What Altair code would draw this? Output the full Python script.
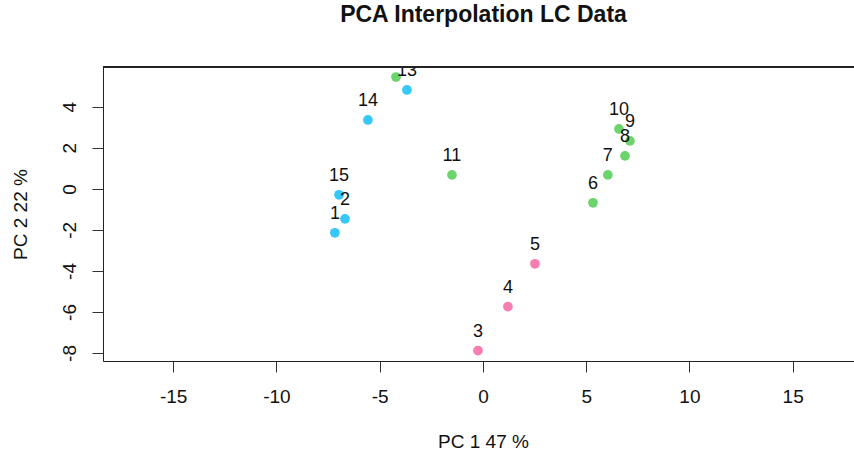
import altair as alt
import pandas as pd

labels = ["1", "2", "3", "4", "5", "6", "7", "8", "9", "10", "11", "12", "13", "14", "15"]
pc1 = [-7.17, -6.68, -0.24, 1.21, 2.52, 5.33, 6.05, 6.88, 7.12, 6.59, -1.50, -4.21, -3.68, -5.57, -6.97]
pc2 = [-2.14, -1.46, -7.88, -5.74, -3.65, -0.68, 0.68, 1.61, 2.34, 2.92, 0.68, 5.45, 4.82, 3.36, -0.29]
groups = ["a", "a", "b", "b", "b", "c", "c", "c", "c", "c", "c", "c", "a", "a", "a"]
group_names = ["a", "b", "c"]
group_colors = ["#36C8F8", "#F87DB0", "#6CD46C"]

x_ticks = [-15, -10, -5, 0, 5, 10, 15]
y_ticks = [-8, -6, -4, -2, 0, 2, 4]

df = pd.DataFrame({"label": labels, "pc1": pc1, "pc2": pc2, "group": groups})

FONT = "Liberation Sans"
W, H = 751, 294

xs = alt.Scale(domain=[-18.40, 17.97], nice=False, zero=False)
ys = alt.Scale(domain=[-8.39, 5.94], nice=False, zero=False)

xenc = alt.X("pc1:Q", scale=xs, axis=alt.Axis(
    values=x_ticks, title="PC 1 47 %", grid=False, tickSize=11, tickColor="#333333",
    domainColor="#222222", labelFontSize=19, labelFont=FONT, labelColor="#111111",
    labelPadding=15, titleFont=FONT, titleFontSize=19, titleFontWeight="normal",
    titleColor="#111111", titleX=380, titleY=80, titleBaseline="middle",
    labelExpr="toString(datum.value)",
    labelFlush=False, labelOverlap=False))
yenc = alt.Y("pc2:Q", scale=ys, axis=alt.Axis(
    values=y_ticks, title="PC 2 22 %", grid=False, tickSize=11, tickColor="#333333",
    domainColor="#222222", labelFontSize=19, labelFont=FONT, labelColor="#111111",
    labelAngle=-90, labelPadding=13, titleFont=FONT, titleFontSize=19,
    titleFontWeight="normal", titleColor="#111111", titleX=-83, titleY=147,
    titleBaseline="middle", titleAngle=-90, labelExpr="toString(datum.value)",
    labelFlush=False, labelOverlap=False))

color = alt.Color("group:N", scale=alt.Scale(domain=group_names, range=group_colors), legend=None)

points = alt.Chart(df).mark_circle(size=95, opacity=1).encode(x=xenc, y=yenc, color=color)
texts = alt.Chart(df).mark_text(fontSize=18, font=FONT, color="#111111", dy=-19,
                                baseline="middle", clip=True).encode(
    x=alt.X("pc1:Q", scale=xs), y=alt.Y("pc2:Q", scale=ys), text="label:N")
top = alt.Chart(df).mark_rule(color="#222222", strokeWidth=1).encode(
    x=alt.value(0), x2=alt.value(W), y=alt.value(0))

chart = alt.layer(points, texts, top).properties(
    width=W, height=H,
    title=alt.TitleParams("PCA Interpolation LC Data", font=FONT, fontSize=23,
                          fontWeight="bold", color="#111111", anchor="middle",
                          dx=5, offset=29, baseline="middle"),
    autosize=alt.AutoSizeParams(type="none"),
    padding={"left": 103, "top": 67, "right": 0, "bottom": 96},
).configure_view(stroke=None).configure(background="white")

chart.save("out.html", embed_options={"renderer": "svg", "actions": False})
